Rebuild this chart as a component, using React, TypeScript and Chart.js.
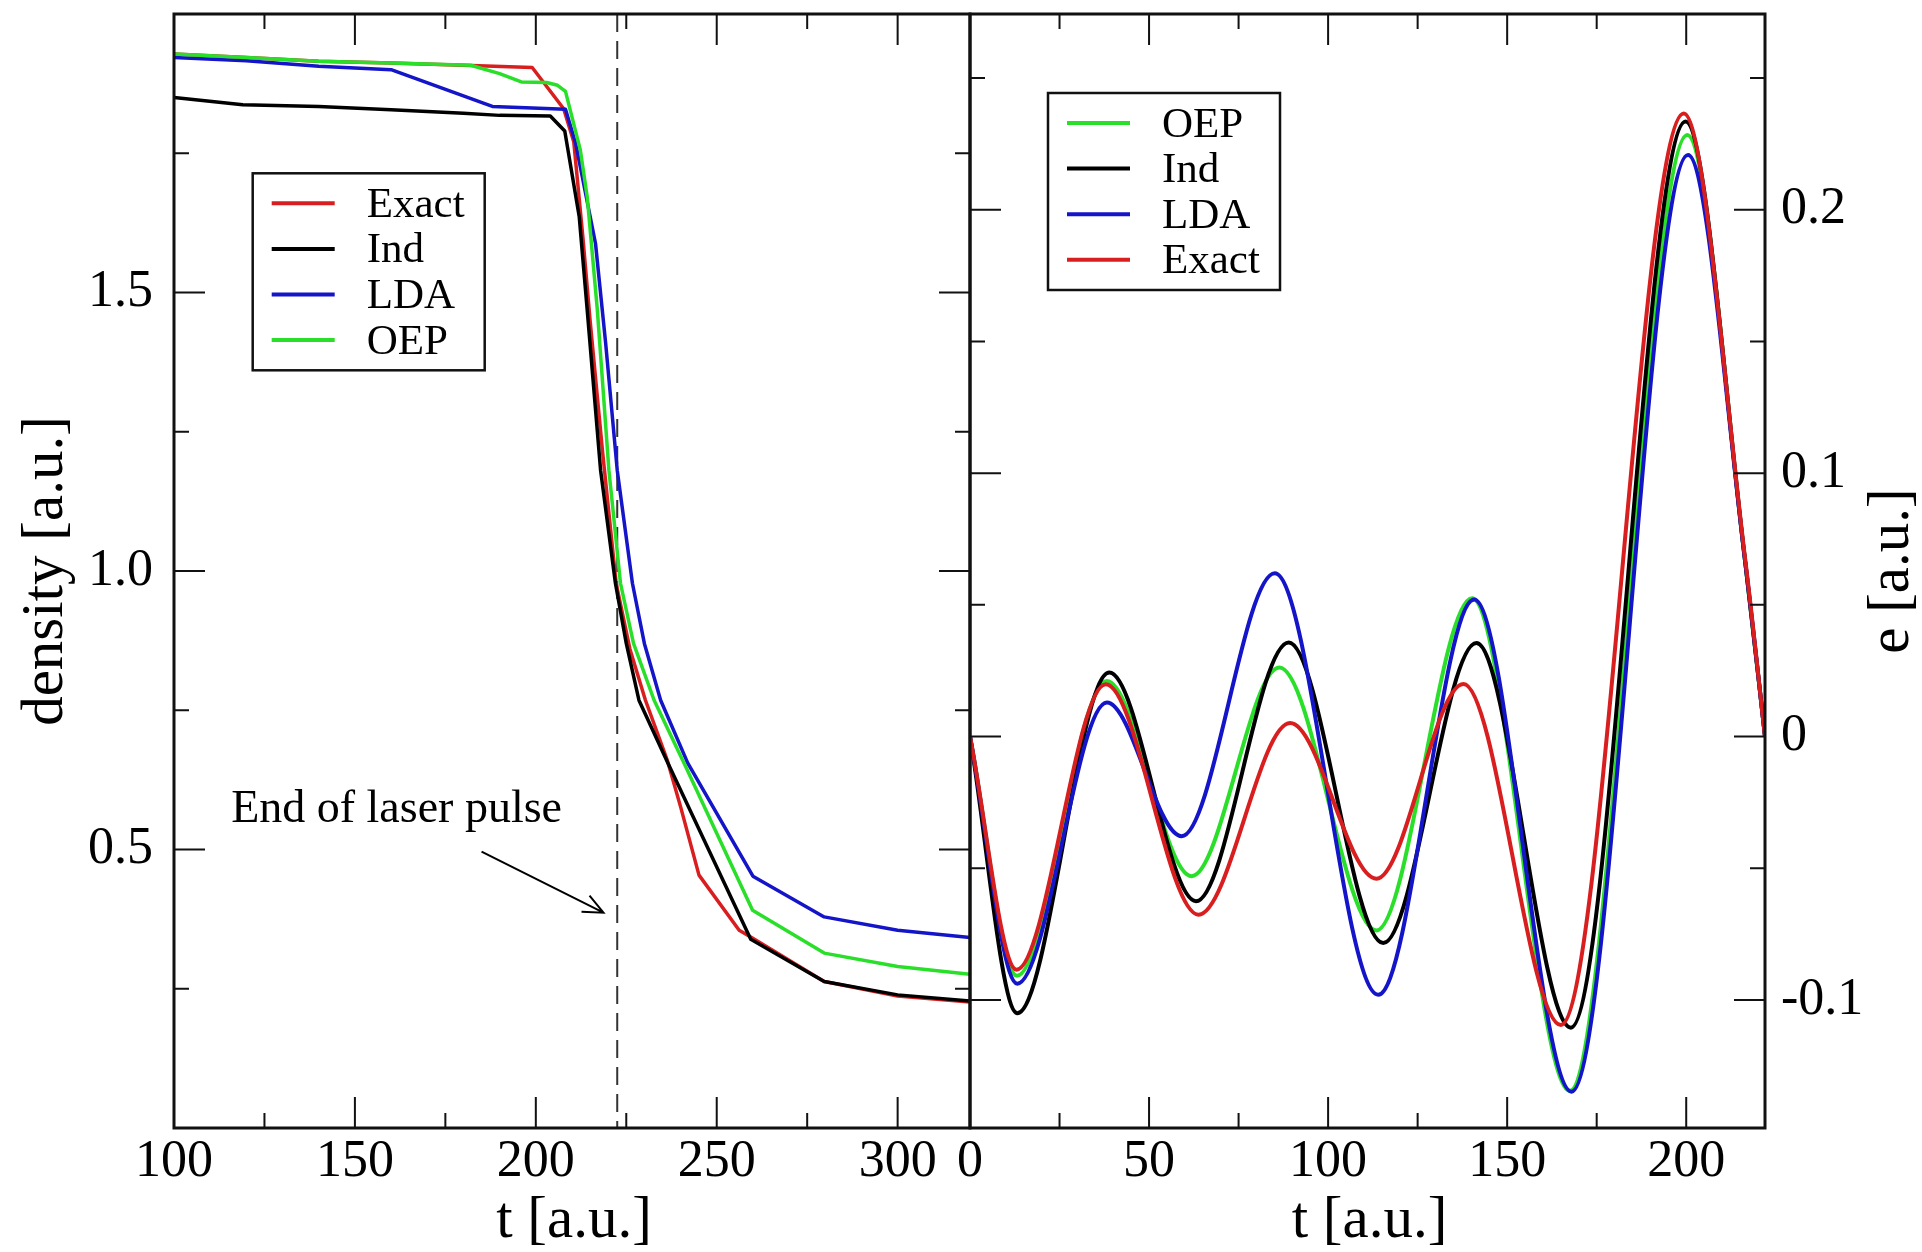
import React, { useEffect, useRef } from "react";
import { Chart, registerables } from "chart.js";

Chart.register(...registerables);

// ---------------- data (left panel: density vs t) ----------------
const DENSITY_EXACT: [number, number][] = [
  [100, 1.928], [120, 1.922], [140, 1.915], [160, 1.912], [180, 1.908], [199, 1.904],
  [207.7, 1.83], [210.5, 1.77], [213, 1.6], [215, 1.45], [218.4, 1.217], [222.2, 0.978],
  [226, 0.86], [230.3, 0.768], [236.3, 0.661], [240, 0.577], [245.1, 0.454], [256.2, 0.355],
  [259.4, 0.343], [279.7, 0.263], [300, 0.237], [320, 0.226],
];
const DENSITY_IND: [number, number][] = [
  [100, 1.85], [119, 1.837], [140, 1.834], [160, 1.828], [180, 1.822], [190, 1.818],
  [204, 1.817], [208, 1.79], [212, 1.636], [214.2, 1.469], [217.9, 1.181], [222, 0.978],
  [225, 0.87], [228.5, 0.768], [236.3, 0.658], [259.4, 0.339], [279.7, 0.263], [300, 0.239],
  [320, 0.228],
];
const DENSITY_LDA: [number, number][] = [
  [100, 1.922], [120, 1.916], [140, 1.906], [160, 1.9], [185.5, 1.84], [188, 1.834],
  [208.2, 1.829], [211, 1.768], [216.5, 1.588], [219.3, 1.409], [222.5, 1.181], [226.7, 0.978],
  [230, 0.87], [234.5, 0.768], [242, 0.655], [260, 0.452], [279.7, 0.379], [300, 0.355],
  [320, 0.342],
];
const DENSITY_OEP: [number, number][] = [
  [100, 1.928], [120, 1.922], [140, 1.915], [160, 1.912], [182, 1.908], [190, 1.893],
  [196, 1.878], [203, 1.877], [206, 1.872], [208.2, 1.861], [212.3, 1.756], [214.2, 1.672],
  [217, 1.469], [220.2, 1.181], [223.4, 0.978], [227, 0.87], [232.7, 0.768], [241.4, 0.649],
  [259.9, 0.391], [279.7, 0.314], [300, 0.29], [320, 0.276],
];

// ---------------- data (right panel: e vs t) ----------------
const FIELD_OEP: [number, number][] = [
  [0, 0], [13.1, -0.0908], [38.2, 0.0211], [61.9, -0.053], [86.4, 0.0262], [113.5, -0.0736],
  [140.2, 0.0525], [167.5, -0.1345], [200.3, 0.2284], [216.5, 0.066], [222, 0],
];
const FIELD_IND: [number, number][] = [
  [0, 0], [13.2, -0.105], [38.9, 0.0243], [63.1, -0.0625], [89.0, 0.0357], [115.4, -0.0784],
  [141.4, 0.0355], [167.8, -0.1105], [199.8, 0.2335], [216.5, 0.066], [222, 0],
];
const FIELD_LDA: [number, number][] = [
  [0, 0], [13.2, -0.0938], [38.2, 0.0129], [59.1, -0.0378], [85.1, 0.062], [114.0, -0.098],
  [140.8, 0.052], [168, -0.1348], [200.5, 0.2208], [216.5, 0.066], [222, 0],
];
const FIELD_EXACT: [number, number][] = [
  [0, 0], [13.0, -0.0885], [37.9, 0.0199], [63.8, -0.0676], [89.4, 0.0051], [113.5, -0.054],
  [137.8, 0.02], [165, -0.1095], [199.3, 0.2365], [216.5, 0.067], [222, 0],
];

// ---------------- axes / ticks ----------------
const LEFT_X_RANGE = [100, 320];
const LEFT_Y_RANGE = [0, 2];
const RIGHT_X_RANGE = [0, 222];
const RIGHT_Y_RANGE = [-0.1486, 0.2743];

const LEFT_X_LABELS = [100, 150, 200, 250, 300];
const LEFT_X_MINOR = [125, 175, 225, 275];
const LEFT_Y_LABELS = [0.5, 1.0, 1.5];
const LEFT_Y_MAJOR = [0, 0.5, 1.0, 1.5, 2.0];
const LEFT_Y_MINOR = [0.25, 0.75, 1.25, 1.75];

const RIGHT_X_LABELS = [0, 50, 100, 150, 200];
const RIGHT_X_MINOR = [25, 75, 125, 175];
const RIGHT_Y_LABELS = [-0.1, 0, 0.1, 0.2];
const RIGHT_Y_MINOR = [-0.05, 0.05, 0.15, 0.25];

const PULSE_END_T = 222.5;
const NOTE_TEXT = "End of laser pulse";
const NOTE_POS = [115.8, 0.549];
const ARROW_FROM = [185.0, 0.496];
const ARROW_TO = [218.7, 0.3865];

const LEFT_LEGEND_ORDER = ["Exact", "Ind", "LDA", "OEP"];
const RIGHT_LEGEND_ORDER = ["OEP", "Ind", "LDA", "Exact"];

const COLORS: Record<string, string> = {
  Exact: "#d81e1e",
  Ind: "#000000",
  LDA: "#1414c8",
  OEP: "#2adf2a",
};

const FONT = "'Liberation Serif', 'Times New Roman', serif";

function ds(label: string, pts: [number, number][], width: number, smooth: boolean) {
  return {
    label,
    data: pts.map(([x, y]) => ({ x, y })),
    borderColor: COLORS[label],
    backgroundColor: COLORS[label],
    borderWidth: width,
    pointRadius: 0,
    pointHoverRadius: 0,
    fill: false,
    tension: 0,
    cubicInterpolationMode: smooth ? "monotone" : "default",
    borderJoinStyle: "round",
  } as any;
}

function drawLegend(ctx: CanvasRenderingContext2D, chart: any, dx: number, dy: number, order: string[]) {
  const a = chart.chartArea;
  const bx = a.left + dx;
  const by = a.top + dy;
  const bw = 232;
  const bh = 197;
  ctx.save();
  ctx.fillStyle = "#ffffff";
  ctx.fillRect(bx, by, bw, bh);
  ctx.lineWidth = 2.5;
  ctx.strokeStyle = "#111";
  ctx.strokeRect(bx, by, bw, bh);
  order.forEach((label, i) => {
    const cy = by + 30 + i * 45.6;
    ctx.strokeStyle = COLORS[label];
    ctx.lineWidth = 4;
    ctx.beginPath();
    ctx.moveTo(bx + 19, cy);
    ctx.lineTo(bx + 82, cy);
    ctx.stroke();
    ctx.fillStyle = "#000";
    ctx.font = `43px ${FONT}`;
    ctx.textAlign = "left";
    ctx.textBaseline = "alphabetic";
    ctx.fillText(label, bx + 114, cy + 13.5);
  });
  ctx.restore();
}

function drawTicks(ctx: CanvasRenderingContext2D, chart: any, xMajor: number[], xMinor: number[], yMajor: number[], yMinor: number[]) {
  const a = chart.chartArea;
  const xs = chart.scales.x;
  const ys = chart.scales.y;
  ctx.save();
  ctx.strokeStyle = "#111";
  ctx.lineWidth = 2;
  const xt = (vals: number[], len: number) =>
    vals.forEach((v) => {
      const p = xs.getPixelForValue(v);
      ctx.beginPath();
      ctx.moveTo(p, a.bottom);
      ctx.lineTo(p, a.bottom - len);
      ctx.moveTo(p, a.top);
      ctx.lineTo(p, a.top + len);
      ctx.stroke();
    });
  const yt = (vals: number[], len: number) =>
    vals.forEach((v) => {
      const p = ys.getPixelForValue(v);
      ctx.beginPath();
      ctx.moveTo(a.left, p);
      ctx.lineTo(a.left + len, p);
      ctx.moveTo(a.right, p);
      ctx.lineTo(a.right - len, p);
      ctx.stroke();
    });
  xt(xMajor, 31);
  xt(xMinor, 15);
  yt(yMajor, 31);
  yt(yMinor, 15);
  ctx.lineWidth = 3;
  ctx.strokeRect(a.left, a.top, a.right - a.left, a.bottom - a.top);
  ctx.restore();
}

function drawText(ctx: CanvasRenderingContext2D, text: string, x: number, y: number, size: number, rot = 0) {
  ctx.save();
  ctx.translate(x, y);
  ctx.rotate(rot);
  ctx.fillStyle = "#000";
  ctx.font = `${size}px ${FONT}`;
  ctx.textAlign = "center";
  ctx.textBaseline = "middle";
  ctx.fillText(text, 0, 0);
  ctx.restore();
}

const leftPlugin = {
  id: "leftPanel",
  beforeDatasetsDraw(chart: any) {
    const ctx = chart.ctx as CanvasRenderingContext2D;
    const a = chart.chartArea;
    const px = chart.scales.x.getPixelForValue(PULSE_END_T);
    ctx.save();
    ctx.strokeStyle = "#333";
    ctx.lineWidth = 2;
    ctx.setLineDash([18, 9]);
    ctx.beginPath();
    ctx.moveTo(px, a.top);
    ctx.lineTo(px, a.bottom);
    ctx.stroke();
    ctx.restore();

    // annotation
    const xs = chart.scales.x;
    const ys = chart.scales.y;
    ctx.save();
    ctx.fillStyle = "#000";
    ctx.font = `46px ${FONT}`;
    ctx.textAlign = "left";
    ctx.textBaseline = "alphabetic";
    ctx.fillText(NOTE_TEXT, xs.getPixelForValue(NOTE_POS[0]), ys.getPixelForValue(NOTE_POS[1]));
    const x0 = xs.getPixelForValue(ARROW_FROM[0]);
    const y0 = ys.getPixelForValue(ARROW_FROM[1]);
    const x1 = xs.getPixelForValue(ARROW_TO[0]);
    const y1 = ys.getPixelForValue(ARROW_TO[1]);
    ctx.strokeStyle = "#000";
    ctx.lineWidth = 2;
    ctx.beginPath();
    ctx.moveTo(x0, y0);
    ctx.lineTo(x1, y1);
    const ang = Math.atan2(y1 - y0, x1 - x0);
    const hl = 22;
    const spread = 0.42;
    ctx.moveTo(x1 - hl * Math.cos(ang - spread), y1 - hl * Math.sin(ang - spread));
    ctx.lineTo(x1, y1);
    ctx.lineTo(x1 - hl * Math.cos(ang + spread), y1 - hl * Math.sin(ang + spread));
    ctx.stroke();
    ctx.restore();
  },
  afterDraw(chart: any) {
    const ctx = chart.ctx as CanvasRenderingContext2D;
    const a = chart.chartArea;
    drawTicks(ctx, chart, LEFT_X_LABELS, LEFT_X_MINOR, LEFT_Y_MAJOR, LEFT_Y_MINOR);
    drawLegend(ctx, chart, 78.7, 159.3, LEFT_LEGEND_ORDER);
    drawText(ctx, "t [a.u.]", (a.left + a.right) / 2 + 2, a.bottom + 93, 59);
    drawText(ctx, "density [a.u.]", a.left - 128, (a.top + a.bottom) / 2, 59, -Math.PI / 2);
  },
};

const rightPlugin = {
  id: "rightPanel",
  afterDraw(chart: any) {
    const ctx = chart.ctx as CanvasRenderingContext2D;
    const a = chart.chartArea;
    drawTicks(ctx, chart, RIGHT_X_LABELS, RIGHT_X_MINOR, RIGHT_Y_LABELS, RIGHT_Y_MINOR);
    drawLegend(ctx, chart, 78, 79, RIGHT_LEGEND_ORDER);
    drawText(ctx, "t [a.u.]", (a.left + a.right) / 2 + 2, a.bottom + 93, 59);
    drawText(ctx, "e [a.u.]", a.right + 127, (a.top + a.bottom) / 2, 59, -Math.PI / 2);
  },
};

function zeroPad(s: any) {
  s.paddingLeft = 0;
  s.paddingRight = 0;
  s.paddingTop = 0;
  s.paddingBottom = 0;
}

function tickFont() {
  return { family: FONT, size: 52 };
}

export default function App() {
  const leftRef = useRef<HTMLCanvasElement | null>(null);
  const rightRef = useRef<HTMLCanvasElement | null>(null);

  useEffect(() => {
    if (!leftRef.current || !rightRef.current) return;

    const left = new Chart(leftRef.current, {
      type: "line",
      data: {
        datasets: [
          ds("OEP", DENSITY_OEP, 3.5, false),
          ds("LDA", DENSITY_LDA, 3.5, false),
          ds("Ind", DENSITY_IND, 3.5, false),
          ds("Exact", DENSITY_EXACT, 3.5, false),
        ],
      },
      options: {
        responsive: false,
        animation: false,
        devicePixelRatio: 1,
        layout: { padding: { left: 0, right: 2, top: 14, bottom: 0 } },
        plugins: { legend: { display: false }, tooltip: { enabled: false }, title: { display: false } },
        events: [],
        scales: {
          x: {
            type: "linear",
            position: "bottom",
            min: LEFT_X_RANGE[0],
            max: LEFT_X_RANGE[1],
            grid: { display: false, drawTicks: false },
            border: { display: false },
            ticks: {
              font: tickFont(),
              color: "#000",
              padding: 3,
              autoSkip: false,
              maxRotation: 0,
              minRotation: 0,
              callback: (v: any) => String(v),
            },
            afterBuildTicks: (s: any) => {
              s.ticks = LEFT_X_LABELS.map((v) => ({ value: v }));
            },
            afterFit: (s: any) => {
              s.height = 124;
              zeroPad(s);
            },
          },
          y: {
            type: "linear",
            position: "left",
            min: LEFT_Y_RANGE[0],
            max: LEFT_Y_RANGE[1],
            grid: { display: false, drawTicks: false },
            border: { display: false },
            ticks: {
              font: tickFont(),
              color: "#000",
              padding: 21,
              autoSkip: false,
              callback: (v: any) => Number(v).toFixed(1),
            },
            afterBuildTicks: (s: any) => {
              s.ticks = LEFT_Y_LABELS.map((v) => ({ value: v }));
            },
            afterFit: (s: any) => {
              s.width = 174;
              zeroPad(s);
            },
          },
        },
      } as any,
      plugins: [leftPlugin],
    });

    const right = new Chart(rightRef.current, {
      type: "line",
      data: {
        datasets: [
          ds("Exact", FIELD_EXACT, 4, true),
          ds("LDA", FIELD_LDA, 4, true),
          ds("Ind", FIELD_IND, 4, true),
          ds("OEP", FIELD_OEP, 4, true),
        ],
      },
      options: {
        responsive: false,
        animation: false,
        devicePixelRatio: 1,
        layout: { padding: { left: 70, right: 0, top: 14, bottom: 0 } },
        plugins: { legend: { display: false }, tooltip: { enabled: false }, title: { display: false } },
        events: [],
        scales: {
          x: {
            type: "linear",
            position: "bottom",
            min: RIGHT_X_RANGE[0],
            max: RIGHT_X_RANGE[1],
            grid: { display: false, drawTicks: false },
            border: { display: false },
            ticks: {
              font: tickFont(),
              color: "#000",
              padding: 3,
              autoSkip: false,
              maxRotation: 0,
              minRotation: 0,
              callback: (v: any) => String(v),
            },
            afterBuildTicks: (s: any) => {
              s.ticks = RIGHT_X_LABELS.map((v) => ({ value: v }));
            },
            afterFit: (s: any) => {
              s.height = 124;
              zeroPad(s);
            },
          },
          y: {
            type: "linear",
            position: "right",
            min: RIGHT_Y_RANGE[0],
            max: RIGHT_Y_RANGE[1],
            grid: { display: false, drawTicks: false },
            border: { display: false },
            ticks: {
              font: tickFont(),
              color: "#000",
              padding: 16,
              autoSkip: false,
              callback: (v: any) => {
                const n = Math.round(Number(v) * 10) / 10;
                return n === 0 ? "0" : n.toFixed(1);
              },
            },
            afterBuildTicks: (s: any) => {
              s.ticks = RIGHT_Y_LABELS.map((v) => ({ value: v }));
            },
            afterFit: (s: any) => {
              s.width = 157;
              zeroPad(s);
            },
          },
        },
      } as any,
      plugins: [rightPlugin],
    });

    return () => {
      left.destroy();
      right.destroy();
    };
  }, []);

  return (
    <div
      style={{
        position: "absolute",
        left: 0,
        top: 0,
        width: 1922,
        height: 1252,
        overflow: "hidden",
        background: "#fff",
      }}
    >
      <canvas
        ref={leftRef}
        width={972}
        height={1252}
        style={{ position: "absolute", left: 0, top: 0, width: 972, height: 1252 }}
      />
      <canvas
        ref={rightRef}
        width={1022}
        height={1252}
        style={{ position: "absolute", left: 900, top: 0, width: 1022, height: 1252 }}
      />
    </div>
  );
}
